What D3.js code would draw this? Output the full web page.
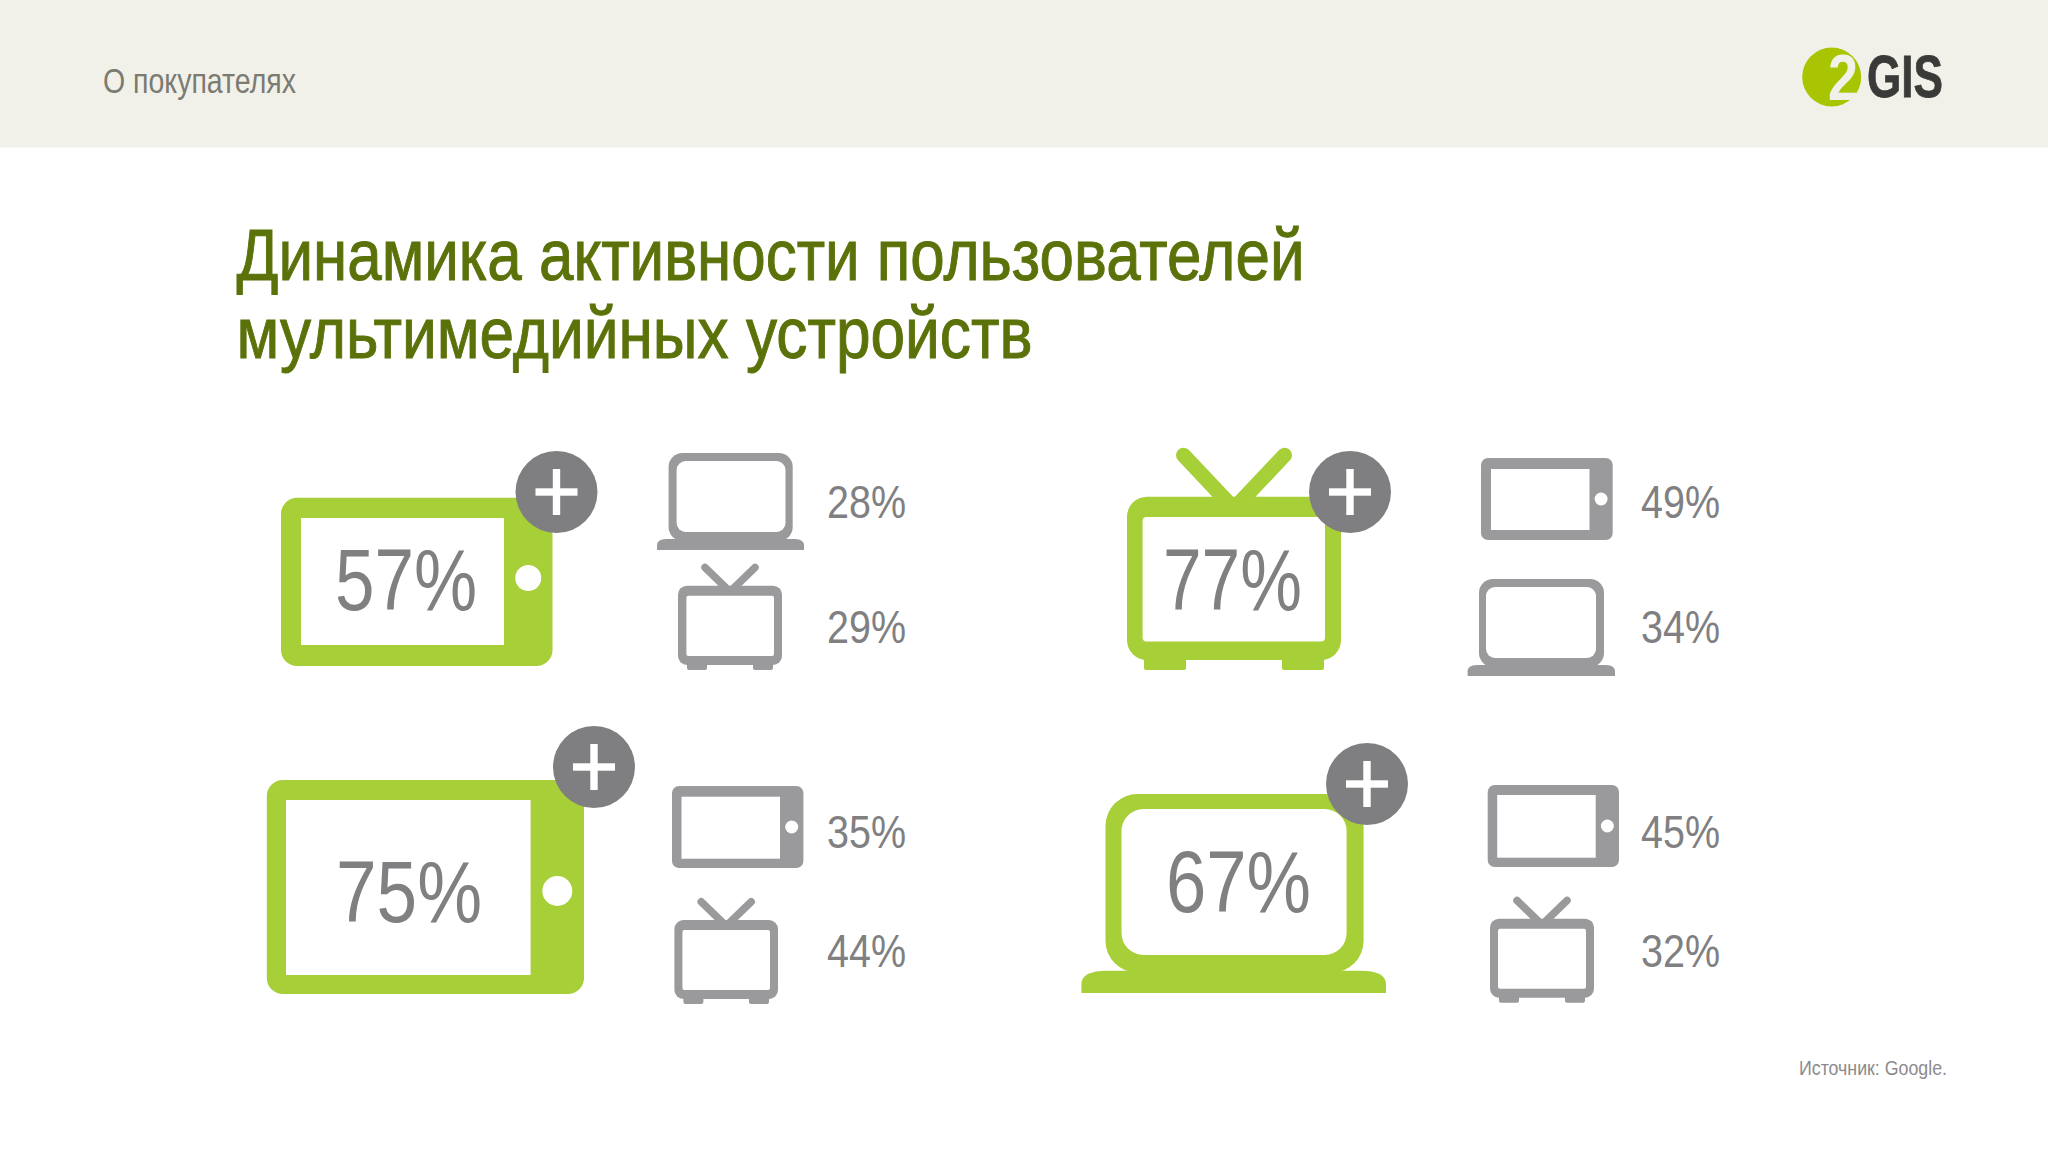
<!DOCTYPE html>
<html lang="ru"><head><meta charset="utf-8">
<script src="https://cdn.jsdelivr.net/npm/d3@7"></script>
<style>html,body{margin:0;background:#fff}svg{display:block}</style></head>
<body><svg id="c" width="2048" height="1152"></svg>
<script>
// ---- data ----
const sectionLabel = "О покупателях";
const titleLines = ["Динамика активности пользователей", "мультимедийных устройств"];
const sourceLabel = "Источник: Google.";
const mainDevices = ["tablet", "tv", "tablet", "laptop"];
const mainValues = [57, 77, 75, 67];
const upperDevices = ["laptop", "tablet", "tablet", "tablet"];
const upperValues = [28, 49, 35, 45];
const lowerDevices = ["tv", "laptop", "tv", "tv"];
const lowerValues = [29, 34, 44, 32];

// ---- layout (kept apart from the data) ----
const GREEN = "#a6cf38", GREY = "#9a999b", DARK = "#7f7f81", NUM = "#808082";
const FONT = "'Liberation Sans Narrow','Liberation Sans',sans-serif";
const panels = [0, 1, 2, 3];
const labelX = d3.scaleOrdinal().domain(panels).range([827, 1641, 827, 1641]);
const upperY = d3.scaleOrdinal().domain(panels).range([518, 518, 848, 848]);
const lowerY = d3.scaleOrdinal().domain(panels).range([643, 643, 967, 967]);
const mainText = [{x0:335,x1:477,y:610},{x0:1163,x1:1302,y:610},{x0:336,x1:482,y:922},{x0:1166,x1:1311,y:912}];
const badges = [[556.5,492],[1350,492],[594,767],[1367,784]];
const mainBoxes = [
  {x0:281,x1:552.5,y0:497.7,y1:666,l:20,r:48.5,t:20.3,b:21,rad:16,dot:13,cy:578},
  {x0:1127,x1:1341,y0:496.7,y1:660,l:15.6,r:16,t:20.3,b:18.5,rad:20,foot:10,fw:42,fi:17,aw:15,ah:49,ax:50.5},
  {x0:266.8,x1:584,y0:780,y1:994,l:19.2,r:53.4,t:20,b:19,rad:16,dot:15,cy:891},
  {x0:1105.5,x1:1363.6,y0:794,y1:970.7,l:16,r:17,t:15,b:15.7,rad:32,irad:22,bx0:1081.4,bx1:1386,bh:22.3,brad:26}
];
const upperBoxes = [
  {x0:668.6,x1:792.7,y0:453,y1:539,l:8,r:7.2,t:8,b:7,rad:14,irad:9,bx0:657,bx1:804,bh:11,brad:9},
  {x0:1481,x1:1612.7,y0:458,y1:540,l:10,r:23.2,t:11,b:10,rad:7,dot:6.5},
  {x0:672,x1:803.4,y0:786,y1:868,l:9.5,r:23.4,t:10.7,b:9.3,rad:7,dot:6.5},
  {x0:1487.7,x1:1619,y0:785,y1:867,l:9.5,r:23.3,t:10,b:9.3,rad:7,dot:6.5}
];
const lowerBoxes = [
  {x0:678,x1:782,y0:585.7,y1:665,l:8.4,r:8,t:10,b:9,rad:9,foot:5,fw:20,fi:9,aw:7.5,ah:22,ax:25},
  {x0:1479,x1:1604,y0:579,y1:665,l:7,r:8,t:8,b:7,rad:14,irad:9,bx0:1467.6,bx1:1615,bh:11,brad:9},
  {x0:674.4,x1:778,y0:920,y1:999,l:8,r:8,t:10,b:9,rad:9,foot:5,fw:20,fi:9,aw:7.5,ah:22,ax:25},
  {x0:1490,x1:1594,y0:918.7,y1:997.7,l:8,r:8,t:10,b:9,rad:9,foot:5,fw:20,fi:9,aw:7.5,ah:22,ax:25}
];

const svg = d3.select("#c");
const rect = (g,x0,y0,x1,y1,rad,fill) => g.append("rect").attr("x",x0).attr("y",y0).attr("width",x1-x0).attr("height",y1-y0).attr("rx",rad||0).attr("fill",fill);
const hole = (g,b,rad) => rect(g,b.x0+b.l,b.y0+b.t,b.x1-b.r,b.y1-b.b,rad,"#fff");

const draw = {
  tablet(g,b,c){
    rect(g,b.x0,b.y0,b.x1,b.y1,b.rad,c); hole(g,b,0);
    g.append("circle").attr("cx",b.x1-b.r/2).attr("cy",b.cy||(b.y0+b.y1)/2).attr("r",b.dot).attr("fill","#fff");
  },
  tv(g,b,c){
    const m=(b.x0+b.x1)/2, p=d3.path();
    p.moveTo(m-b.ax,b.y0-b.ah+b.aw/2); p.lineTo(m,b.y0+b.aw*0.8); p.lineTo(m+b.ax,b.y0-b.ah+b.aw/2);
    g.append("path").attr("d",p.toString()).attr("fill","none").attr("stroke",c).attr("stroke-width",b.aw).attr("stroke-linecap","round");
    rect(g,b.x0+b.fi,b.y1-b.foot,b.x0+b.fi+b.fw,b.y1+b.foot,2,c);
    rect(g,b.x1-b.fi-b.fw,b.y1-b.foot,b.x1-b.fi,b.y1+b.foot,2,c);
    rect(g,b.x0,b.y0,b.x1,b.y1,b.rad,c); hole(g,b,b.rad>12?4:2);
  },
  laptop(g,b,c){
    rect(g,b.x0,b.y0,b.x1,b.y1+2,b.rad,c); hole(g,b,b.irad);
    const p=d3.path(), t=b.y1, bt=b.y1+b.bh;
    p.moveTo(b.bx0,bt); p.lineTo(b.bx0,t+b.bh*0.6);
    p.quadraticCurveTo(b.bx0,t,b.bx0+b.brad,t); p.lineTo(b.bx1-b.brad,t);
    p.quadraticCurveTo(b.bx1,t,b.bx1,t+b.bh*0.6); p.lineTo(b.bx1,bt); p.closePath();
    g.append("path").attr("d",p.toString()).attr("fill",c);
  }
};

// header band
rect(svg,0,0,2048,147.5,0,"#f2f1e9");
svg.append("text").text(sectionLabel).attr("x",103).attr("y",92.5).attr("textLength",193).attr("lengthAdjust","spacingAndGlyphs")
  .attr("font-family",FONT).attr("font-size",35).attr("fill","#7b7b72");

// logo
const logo = svg.append("g");
logo.append("circle").attr("cx",1831.7).attr("cy",77).attr("r",29.5).attr("fill","#a9c400");
logo.append("text").text("2").attr("x",1828).attr("y",100).attr("textLength",30).attr("lengthAdjust","spacingAndGlyphs")
  .attr("font-family",FONT).attr("font-weight",700).attr("font-size",64).attr("fill","#f2f1e9");
logo.append("text").text("GIS").attr("x",1867).attr("y",97).attr("textLength",76).attr("lengthAdjust","spacingAndGlyphs")
  .attr("font-family",FONT).attr("font-weight",700).attr("font-size",60).attr("fill","#3a3a38")
  .attr("stroke","#3a3a38").attr("stroke-width",0.8);

// title
const titleWidths = [1068, 796];
svg.selectAll("text.title").data(titleLines).join("text").attr("class","title").text(d=>d)
  .attr("x",236.5).attr("y",(d,i)=>[280,358.3][i]).attr("textLength",(d,i)=>titleWidths[i]).attr("lengthAdjust","spacingAndGlyphs")
  .attr("font-family",FONT).attr("font-size",72).attr("fill","#5a7209").attr("stroke","#5a7209").attr("stroke-width",1);

// panels
panels.forEach(i=>{
  const g = svg.append("g");
  draw[mainDevices[i]](g,mainBoxes[i],GREEN);
  const [cx,cy]=badges[i];
  g.append("circle").attr("cx",cx).attr("cy",cy).attr("r",41).attr("fill",DARK);
  rect(g,cx-21,cy-3.7,cx+21,cy+3.7,0,"#fff");
  rect(g,cx-3.7,cy-23,cx+3.7,cy+23,0,"#fff");
  const mt=mainText[i];
  g.append("text").text(mainValues[i]+"%").attr("x",mt.x0).attr("y",mt.y).attr("textLength",mt.x1-mt.x0).attr("lengthAdjust","spacingAndGlyphs")
    .attr("font-family",FONT).attr("font-size",88).attr("fill",NUM);
  draw[upperDevices[i]](g,upperBoxes[i],GREY);
  draw[lowerDevices[i]](g,lowerBoxes[i],GREY);
  [[upperValues[i],upperY(i)],[lowerValues[i],lowerY(i)]].forEach(([v,y])=>{
    g.append("text").text(v+"%").attr("x",labelX(i)).attr("y",y).attr("textLength",79).attr("lengthAdjust","spacingAndGlyphs")
      .attr("font-family",FONT).attr("font-size",47).attr("fill",NUM);
  });
});

// source
svg.append("text").text(sourceLabel).attr("x",1799).attr("y",1075).attr("textLength",148).attr("lengthAdjust","spacingAndGlyphs")
  .attr("font-family",FONT).attr("font-size",21).attr("fill","#8b8b8d");
</script></body></html>
